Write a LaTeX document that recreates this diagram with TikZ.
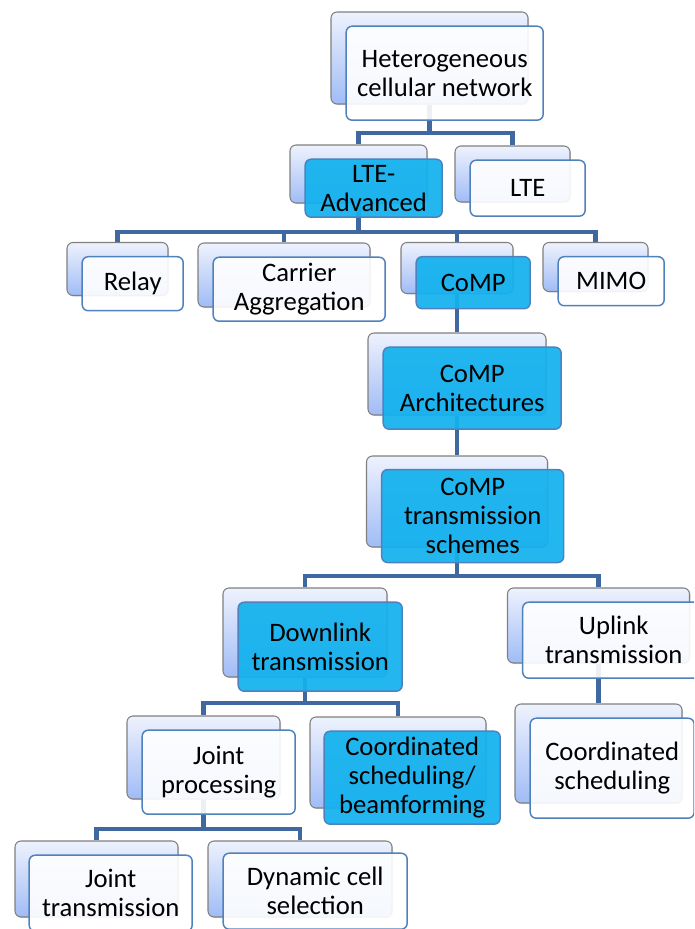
\documentclass[tikz,border=0pt]{standalone}
\usepackage{fontspec}
\setmainfont{Carlito}
\usetikzlibrary{positioning,backgrounds,shadows}

\definecolor{linkblue}{RGB}{64,104,160}
\definecolor{edgeblue}{RGB}{79,129,189}
\definecolor{boxgray}{RGB}{128,128,128}
\definecolor{shadetop}{RGB}{238,242,253}
\definecolor{shadebot}{RGB}{160,188,246}
\definecolor{compcyan}{RGB}{19,178,238}

\tikzset{
  dims/.style 2 args={minimum width=#1*0.75pt, minimum height=#2*0.75pt},
  link/.style={draw=linkblue, line width=3.4pt},
  backbox/.style={rectangle, rounded corners=4.5pt, draw=boxgray, line width=0.8pt,
    top color=shadetop, bottom color=shadebot, inner sep=0pt,
    drop shadow={opacity=0.25, shadow xshift=0.8pt, shadow yshift=-0.8pt}},
  frontbox/.style={rectangle, rounded corners=4.5pt, draw=edgeblue, line width=1.1pt,
    fill=white, fill opacity=0.9, text opacity=1, inner sep=0pt, align=center,
    font=\fontsize{20}{21.75}\selectfont},
  hilite/.style={fill=compcyan, fill opacity=0.93},
}

\begin{document}
\begin{tikzpicture}[x=0.75pt, y=-0.75pt]
  \useasboundingbox (0,0) rectangle (694,929);
  \clip (0,0) rectangle (694,929);

  % back boxes
  \node[backbox, dims={197}{92}] (hetb) at (429.5,58) {};
  \node[backbox, dims={137}{58}] (ltab) at (358.5,174) {};
  \node[backbox, dims={115}{56}] (lteb) at (512.5,174) {};
  \node[backbox, dims={101}{53}] (relb) at (117.5,269) {};
  \node[backbox, dims={172}{64}] (carb) at (284,275) {};
  \node[backbox, dims={112}{51}] (compb) at (457,268) {};
  \node[backbox, dims={105}{49}] (mimob) at (595.5,267) {};
  \node[backbox, dims={178}{82}] (archb) at (457,374) {};
  \node[backbox, dims={181}{91}] (schb) at (457,501.5) {};
  \node[backbox, dims={164}{89}] (downb) at (305,632.5) {};
  \node[backbox, dims={182}{75}] (upb) at (598.5,625.5) {};
  \node[backbox, dims={153}{83}] (jpb) at (203.5,757.5) {};
  \node[backbox, dims={176}{91}] (csbfb) at (398,762.5) {};
  \node[backbox, dims={167}{99}] (csb) at (598.5,753.5) {};
  \node[backbox, dims={163}{76}] (jtb) at (96.5,879) {};
  \node[backbox, dims={184}{76}] (dcsb) at (300,879) {};

  % front boxes
  \node[frontbox, dims={197}{94}, below right=10.5pt and 11.25pt of hetb.north west] (het) {Heterogeneous\\cellular network};
  \node[frontbox, hilite, dims={137}{58}, below right=10.5pt and 11.25pt of ltab.north west] (lta) {LTE-\\Advanced};
  \node[frontbox, dims={115}{56}, below right=10.5pt and 11.25pt of lteb.north west] (lte) {LTE};
  \node[frontbox, dims={101}{54}, below right=10.5pt and 11.25pt of relb.north west] (rel) {Relay};
  \node[frontbox, dims={172}{64}, below right=10.5pt and 11.25pt of carb.north west] (car) {Carrier\\Aggregation};
  \node[frontbox, hilite, dims={114}{52}, below right=10.5pt and 11.25pt of compb.north west] (comp) {CoMP};
  \node[frontbox, dims={106}{49}, below right=10.5pt and 11.25pt of mimob.north west] (mimo) {MIMO};
  \node[frontbox, hilite, dims={178}{82}, below right=10.5pt and 11.25pt of archb.north west] (arch) {CoMP\\Architectures};
  \node[frontbox, hilite, dims={182}{93}, below right=10pt and 11.25pt of schb.north west] (sch) {CoMP\\transmission\\schemes};
  \node[frontbox, hilite, dims={164}{89}, below right=10.5pt and 11.25pt of downb.north west] (down) {Downlink\\transmission};
  \node[frontbox, dims={182}{76}, below right=10.5pt and 11.25pt of upb.north west] (up) {Uplink\\transmission};
  \node[frontbox, dims={153}{84}, below right=10.5pt and 11.25pt of jpb.north west] (jp) {Joint\\processing};
  \node[frontbox, hilite, dims={176}{93}, below right=10.5pt and 10.5pt of csbfb.north west] (csbf) {Coordinated\\scheduling/\\beamforming};
  \node[frontbox, dims={164}{100}, below right=10.5pt and 11.25pt of csb.north west] (cs) {Coordinated\\scheduling};
  \node[frontbox, dims={163}{76}, below right=10.5pt and 10.5pt of jtb.north west] (jt) {Joint\\transmission};
  \node[frontbox, dims={184}{76}, below right=9pt and 11.25pt of dcsb.north west] (dcs) {Dynamic cell\\selection};

  % connectors
  \begin{pgfonlayer}{background}
    \coordinate (bus1) at (429.5,133);
    \coordinate (bus2) at (358.5,232);
    \coordinate (bus3) at (457,576);
    \coordinate (bus4) at (305,703);
    \coordinate (bus5) at (203.5,829);
    \draw[link] (hetb) -- (bus1) -| (ltab);
    \draw[link] (bus1) -| (lteb);
    \draw[link] (ltab) -- (bus2) -| (relb);
    \draw[link] (bus2) -| (carb);
    \draw[link] (bus2) -| (compb);
    \draw[link] (bus2) -| (mimob);
    \draw[link] (compb) -- (archb);
    \draw[link] (archb) -- (schb);
    \draw[link] (schb) -- (bus3) -| (downb);
    \draw[link] (bus3) -| (upb);
    \draw[link] (upb) -- (csb);
    \draw[link] (downb) -- (bus4) -| (jpb);
    \draw[link] (bus4) -| (csbfb);
    \draw[link] (jpb) -- (bus5) -| (jtb);
    \draw[link] (bus5) -| (dcsb);
  \end{pgfonlayer}
\end{tikzpicture}
\end{document}
